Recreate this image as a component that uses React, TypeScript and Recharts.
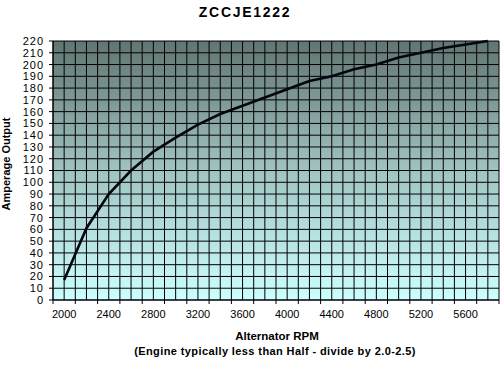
import React from 'react';
import { LineChart, Line, XAxis, YAxis, CartesianGrid } from 'recharts';

const rpm = [2000, 2200, 2400, 2600, 2800, 3000, 3200, 3400, 3600, 3800, 4000, 4200, 4400, 4600, 4800, 5000, 5200, 5400, 5600, 5800];
const amps = [17, 61, 90, 110, 126, 138, 149, 158, 165, 172, 179, 186, 190, 196, 200, 206, 210, 214, 217, 220];
const xLabels = [2000, 2400, 2800, 3200, 3600, 4000, 4400, 4800, 5200, 5600];
const yTicks = [0, 10, 20, 30, 40, 50, 60, 70, 80, 90, 100, 110, 120, 130, 140, 150, 160, 170, 180, 190, 200, 210, 220];
const titleText = 'ZCCJE1222';
const xTitle = 'Alternator RPM';
const xSubtitle = '(Engine typically less than Half - divide by 2.0-2.5)';
const yTitle = 'Amperage Output';

const data = rpm.map((r, i) => ({ rpm: r, amps: amps[i] }));
const xMin = 1900;
const xMax = 5900;
const gridTicks: number[] = [];
for (let v = xMin; v <= xMax; v += 100) gridTicks.push(v);

const FONT = '"Liberation Sans", Arial, sans-serif';

const XTick = (props: any) => {
  const { x, y, payload } = props;
  const v = payload.value;
  const axisY = y - 8;
  const isMark = (v - xMin) % 200 === 0;
  return (
    <g>
      {isMark && <line x1={x} x2={x} y1={axisY} y2={axisY + 4} stroke="#000" strokeWidth={1} />}
      {xLabels.includes(v) && (
        <text x={x} y={axisY + 18} textAnchor="middle" fontSize={11} fontFamily={FONT} fill="#000">
          {v}
        </text>
      )}
    </g>
  );
};

const YTick = (props: any) => {
  const { x, y, payload } = props;
  return (
    <text x={x + 1} y={y} dy="0.36em" textAnchor="end" fontSize={11} letterSpacing={1} fontFamily={FONT} fill="#000">
      {payload.value}
    </text>
  );
};

export default function App() {
  return (
    <div style={{ position: 'absolute', left: 0, top: 0, width: 504, height: 365, background: '#fff' }}>
      <LineChart width={504} height={365} data={data} margin={{ top: 41, right: 5, left: 0, bottom: 0 }}>
        <defs>
          <linearGradient id="bgGrad" x1="0" y1="0" x2="0" y2="1">
            <stop offset="0%" stopColor="#617572" />
            <stop offset="50%" stopColor="#a0c4c2" />
            <stop offset="100%" stopColor="#ccffff" />
          </linearGradient>
        </defs>
        <CartesianGrid stroke="#000" strokeWidth={1} fill="url(#bgGrad)" fillOpacity={1} />
        <XAxis
          dataKey="rpm"
          type="number"
          domain={[xMin, xMax]}
          ticks={gridTicks}
          interval={0}
          height={65}
          tickLine={false}
          tickSize={5}
          tickMargin={3}
          tick={<XTick />}
          axisLine={{ stroke: '#000' }}
          allowDataOverflow
        />
        <YAxis
          type="number"
          domain={[0, 220]}
          ticks={yTicks}
          interval={0}
          width={53}
          tickSize={4}
          tickMargin={6}
          tickLine={{ stroke: '#000' }}
          axisLine={{ stroke: '#000' }}
          tick={<YTick />}
        />
        <Line type="linear" dataKey="amps" stroke="#05050f" strokeWidth={2.6} dot={false} isAnimationActive={false} />
      </LineChart>
      <svg width={504} height={365} style={{ position: 'absolute', left: 0, top: 0, pointerEvents: 'none' }}>
        <text x={245} y={17} textAnchor="middle" fontSize={14} fontWeight="bold" letterSpacing={1.7} fontFamily={FONT} fill="#000">
          {titleText}
        </text>
        <text x={277} y={340} textAnchor="middle" fontSize={11.5} fontWeight="bold" fontFamily={FONT} fill="#000">
          {xTitle}
        </text>
        <text x={275} y={355} textAnchor="middle" fontSize={11} fontWeight="bold" letterSpacing={0.4} fontFamily={FONT} fill="#000">
          {xSubtitle}
        </text>
        <text transform="translate(10,164) rotate(-90)" textAnchor="middle" fontSize={11} fontWeight="bold" fontFamily={FONT} fill="#000">
          {yTitle}
        </text>
      </svg>
    </div>
  );
}
